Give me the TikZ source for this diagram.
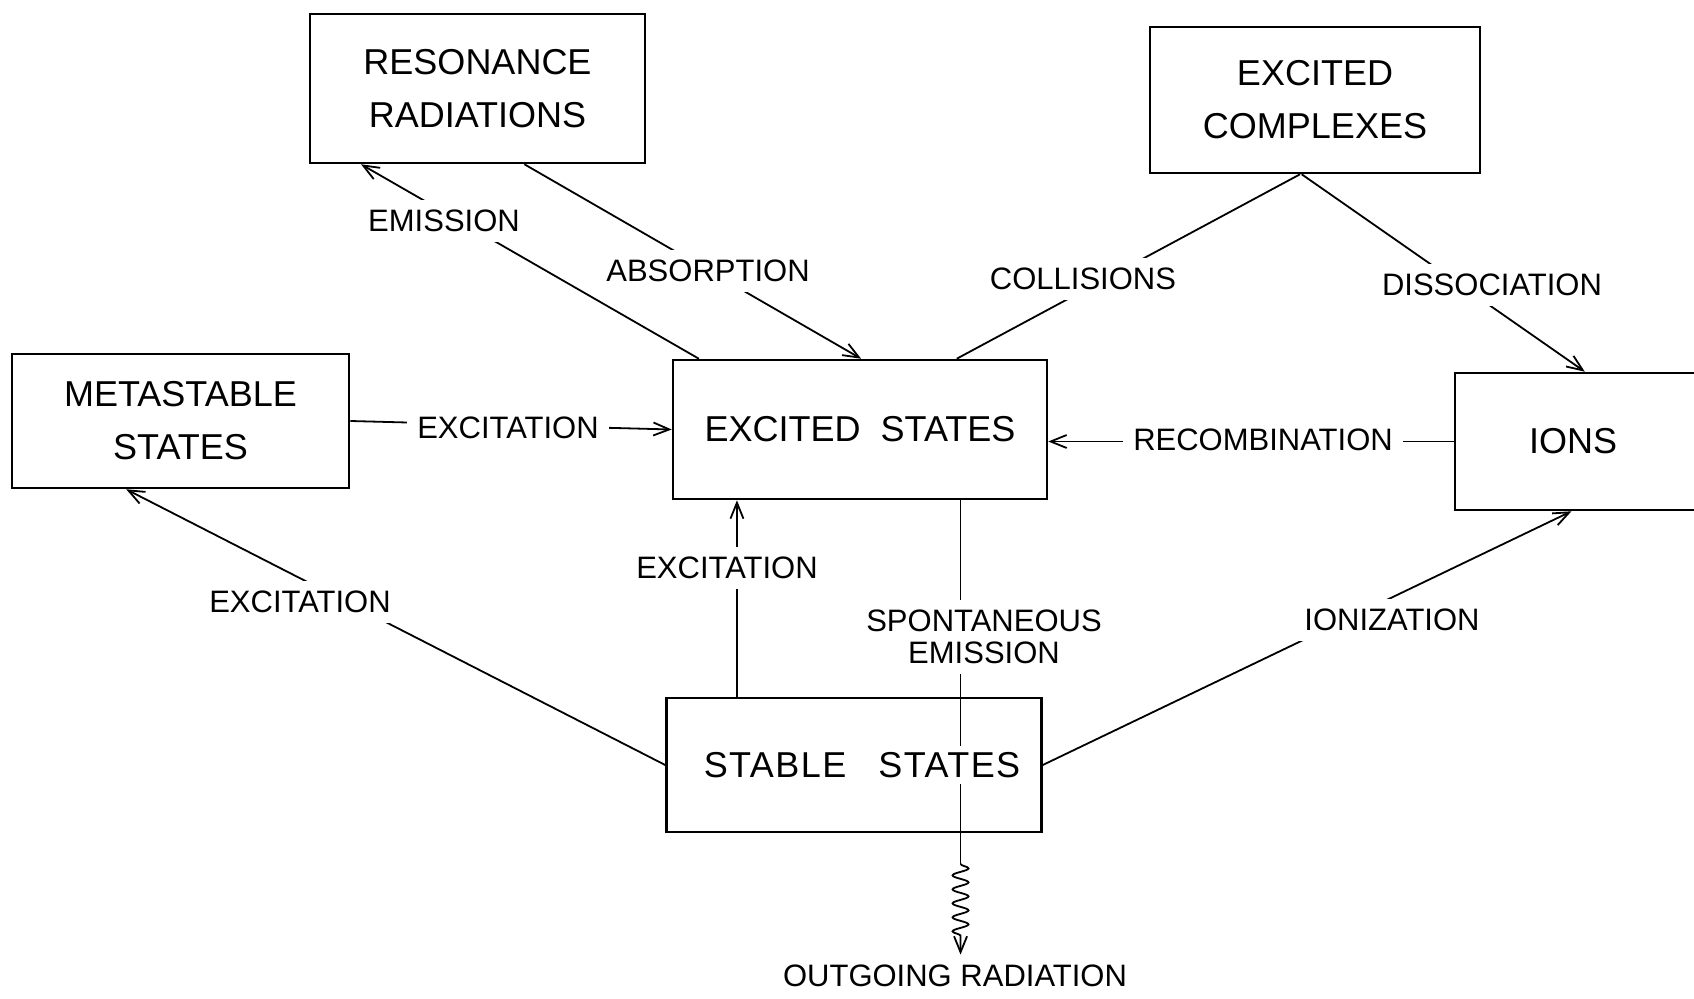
\documentclass[tikz,border=0pt]{standalone}
\usepackage{fontspec}
\setmainfont{Liberation Sans}
\usetikzlibrary{arrows.meta,calc,decorations.pathmorphing}

\newcommand{\boxfont}{\fontsize{18}{26.5}\selectfont}
\newcommand{\lblfont}{\fontsize{15.5}{16}\selectfont}

\tikzset{
  state/.style={draw, line width=1.3pt, align=center, inner sep=0pt, font=\boxfont},
  lbl/.style={fill=white, inner sep=5pt, align=center, font=\lblfont},
  link/.style={line width=0.9pt},
  >={Straight Barb[length=8pt,width=6.5pt]}
}

\begin{document}
\begin{tikzpicture}[x=0.5pt, y=-0.5pt]
    \useasboundingbox (0,0) rectangle (1694,999);
    \clip (0,0) rectangle (1694,999);

    % Boxes
    \node[state, minimum width=167.5pt, minimum height=74.5pt] (res) at (477.5,88.5) {RESONANCE\\RADIATIONS};
    \node[state, minimum width=165pt, minimum height=73pt] (cpx) at (1315,100) {EXCITED\\COMPLEXES};
    \node[state, minimum width=168.5pt, minimum height=67pt] (meta) at (180.5,421) {METASTABLE\\STATES};
    \node[state, minimum width=187pt, minimum height=69.5pt] (exc) at (860,429.5) {EXCITED\hspace{10pt}STATES};
    \node[state, minimum width=132.5pt, minimum height=68.5pt,
          label={[xshift=-7.25pt, font=\boxfont]center:IONS}] (ions) at (1587.5,441.5) {};
    \node[lbl] (out) at (955,976) {OUTGOING RADIATION};

    % Spontaneous emission, down through the stable states
    \coordinate (spont) at ($(exc.south west)!0.767!(exc.south east)$);
    \coordinate (wave) at (spont |- 0,864);
    \draw[link] (spont) -- (wave);
    \draw[link, ->, decorate, decoration={snake, amplitude=4pt, segment length=7pt, post length=6pt}]
        (wave) -- (wave |- out.north);

    \node[state, minimum width=187.5pt, minimum height=67pt,
          label={[fill=white, inner sep=3pt, xshift=4pt, font=\boxfont\addfontfeature{LetterSpace=4}]center:STABLE\hspace{16pt}STATES}] (stab) at (854,765) {};

    % Connectors
    \draw[link, ->] ($(exc.north west)!0.072!(exc.north east)$) -- ($(res.south west)!0.155!(res.south east)$);
    \draw[link, ->] ($(res.south west)!0.639!(res.south east)$) -- ($(exc.north west)!0.503!(exc.north east)$);
    \draw[link] ($(exc.north west)!0.757!(exc.north east)$) -- ($(cpx.south west)!0.455!(cpx.south east)$);
    \draw[link, ->] ($(cpx.south west)!0.46!(cpx.south east)$) -- ($(ions.north west)!0.49!(ions.north east)$);
    \draw[link, ->] (meta.east) -- (exc.west);
    \draw[link, ->] (ions.west) -- (exc.east |- ions.west);
    \coordinate (vup) at ($(stab.north west)!0.19!(stab.north east)$);
    \draw[link, ->] (vup) -- (vup |- exc.south);
    \draw[link, ->] (stab.west) -- ($(meta.south west)!0.34!(meta.south east)$);
    \draw[link, ->] (stab.east) -- ($(ions.south west)!0.44!(ions.south east)$);

    % Labels
    \node[lbl] (lem) at (444,221) {EMISSION};
    \node[lbl] (labs) at (708,271) {ABSORPTION};
    \node[lbl] (lcol) at (1083,279) {COLLISIONS};
    \node[lbl] (ldis) at (1492,285) {DISSOCIATION};
    \node[lbl] (lexm) at (508,428) {EXCITATION};
    \node[lbl] (lrec) at (1263,440) {RECOMBINATION};
    \node[lbl] (lexv) at (727,568) {EXCITATION};
    \node[lbl] (lexl) at (300,602) {EXCITATION};
    \node[lbl] (lspo) at (984,637) {SPONTANEOUS\\EMISSION};
    \node[lbl] (lion) at (1392,620) {IONIZATION};
\end{tikzpicture}
\end{document}
